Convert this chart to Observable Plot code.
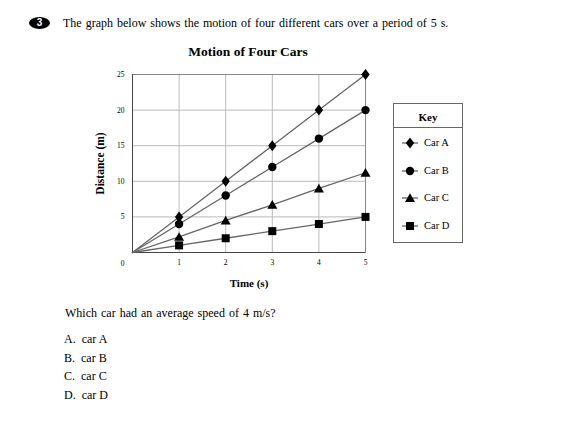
<!DOCTYPE html>
<html><head><meta charset="utf-8">
<script src="https://cdn.jsdelivr.net/npm/d3@7"></script>
<script src="https://cdn.jsdelivr.net/npm/@observablehq/plot@0.6"></script>
<style>
body{margin:0;background:#fff;}
#page{position:relative;width:566px;height:426px;font-family:"Liberation Serif","DejaVu Serif",serif;color:#000;overflow:hidden}
.abs{position:absolute;white-space:nowrap}
#chart{position:absolute;left:0;top:60px}
</style></head><body><div id="page">
<div class="abs" style="left:29px;top:17px;width:21px;height:12px;border-radius:50%;background:#000;color:#fff;font:bold 10px 'Liberation Sans',sans-serif;text-align:center;line-height:12px">3</div>
<div class="abs" style="left:63px;top:16px;font-size:12px;line-height:14px;word-spacing:1px">The graph below shows the motion of four different cars over a period of 5 s.</div>
<div class="abs" style="left:0;width:496px;text-align:center;top:44px;font-size:13.5px;font-weight:bold;line-height:16px">Motion of Four Cars</div>
<div id="chart"></div>
<div id="legend" class="abs" style="left:393px;top:103px;width:68px;height:138px;border:1px solid #666"></div>
<div class="abs" style="left:65px;top:306px;font-size:12px;line-height:14px;word-spacing:1px">Which car had an average speed of 4 m/s?</div>
<div id="opts"></div>
</div>
<script>
const times = [0, 1, 2, 3, 4, 5];
const carA = [0, 5, 10, 15, 20, 25];
const carB = [0, 4, 8, 12, 16, 20];
const carC = [0, 2.2, 4.5, 6.7, 9, 11.2];
const carD = [0, 1, 2, 3, 4, 5];
const cars = ["Car A", "Car B", "Car C", "Car D"];
const xTicks = [1, 2, 3, 4, 5];
const yTicks = [5, 10, 15, 20, 25];
const options = ["A.  car A", "B.  car B", "C.  car C", "D.  car D"];

const series = [carA, carB, carC, carD];
const rows = [];
cars.forEach((c, i) => times.forEach((t, j) => rows.push({car: c, t, d: series[i][j]})));

const symbols = {
  "Car A": {draw(ctx){ctx.moveTo(0,-5.5);ctx.lineTo(4.2,0);ctx.lineTo(0,5.5);ctx.lineTo(-4.2,0);ctx.closePath();}},
  "Car B": {draw(ctx){ctx.moveTo(4.2,0);ctx.arc(0,0,4.2,0,2*Math.PI);ctx.closePath();}},
  "Car C": {draw(ctx){ctx.moveTo(0,-4.7);ctx.lineTo(5,4);ctx.lineTo(-5,4);ctx.closePath();}},
  "Car D": {draw(ctx){ctx.rect(-4,-4,8,8);}}
};

const dots = cars.map(c => Plot.dot(rows.filter(r => r.car === c && r.t > 0), {
  x: "t", y: "d", symbol: symbols[c], fill: "#000", stroke: "none", r: 4
}));

const plot = Plot.plot({
  width: 566, height: 230,
  marginLeft: 132, marginRight: 201, marginTop: 14, marginBottom: 38,
  x: {domain: [0, 5]},
  y: {domain: [0, 25]},
  style: {fontFamily: "Liberation Serif", fontSize: "7px", background: "transparent", overflow: "visible"},
  marks: [
    Plot.gridX(xTicks.slice(0, 4), {stroke: "#bbb", strokeOpacity: 1}),
    Plot.gridY(yTicks.slice(0, 4), {stroke: "#bbb", strokeOpacity: 1}),
    Plot.frame({stroke: "#888"}),
    Plot.ruleX([0], {stroke: "#444"}),
    Plot.ruleY([0], {stroke: "#444"}),
    Plot.axisX(xTicks, {tickSize: 0, tickPadding: 7, label: null, fontSize: 7.5}),
    Plot.axisY(yTicks, {tickSize: 0, tickPadding: 8, label: null, fontSize: 7.5}),
    Plot.text([0], {x: d => d, y: d => d, text: d => String(d), dx: -10, dy: 11, fontSize: 7.5}),
    Plot.text(["Distance (m)"], {frameAnchor: "left", dx: -32, rotate: -90, fontWeight: "bold", fontSize: 11.5, textAnchor: "middle", lineAnchor: "middle"}),
    Plot.text(["Time (s)"], {frameAnchor: "bottom", dy: 31, fontWeight: "bold", fontSize: 11, textAnchor: "middle", lineAnchor: "middle"}),
    Plot.line(rows, {x: "t", y: "d", z: "car", stroke: "#666", strokeWidth: 1.3}),
    ...dots
  ]
});
document.getElementById("chart").appendChild(plot);

// legend
const lg = document.getElementById("legend");
let html = '<div style="position:absolute;left:0;right:0;top:6px;text-align:center;font-size:11px;font-weight:bold;line-height:14px">Key</div>';
html += '<div style="position:absolute;left:0;right:0;top:23px;border-top:1px solid #666"></div>';
const rowY = [39, 67, 94, 122];
cars.forEach((c, i) => {
  const p = d3.path(); symbols[c].draw(p);
  html += `<svg style="position:absolute;left:6px;top:${rowY[i]-7}px" width="20" height="14"><line x1="2" x2="18" y1="7" y2="7" stroke="#666" stroke-width="1.3"/><path transform="translate(10,7)" d="${p.toString()}" fill="#000"/></svg>`;
  html += `<div style="position:absolute;left:30px;top:${rowY[i]-7}px;font-size:10.5px;line-height:14px">${c}</div>`;
});
lg.innerHTML = html;

const optY = [332, 351, 369, 388];
document.getElementById("opts").innerHTML = options.map((o, i) =>
  `<div class="abs" style="left:64px;top:${optY[i]}px;font-size:12px;line-height:14px;white-space:pre">${o}</div>`).join("");
</script>
</body></html>
